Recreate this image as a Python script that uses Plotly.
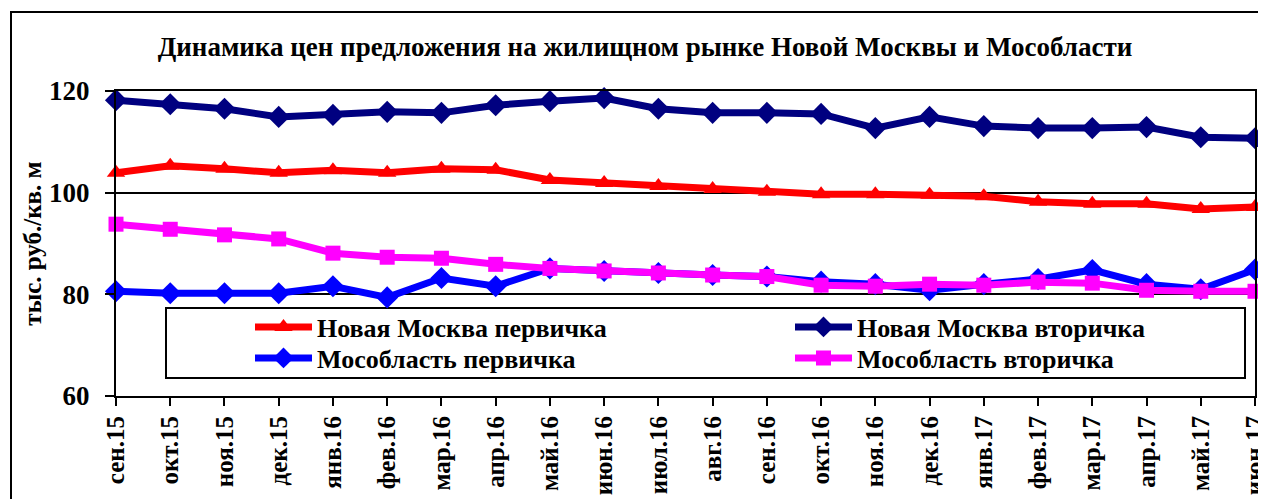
import plotly.graph_objects as go

months = ["сен.15", "окт.15", "ноя.15", "дек.15", "янв.16", "фев.16", "мар.16", "апр.16",
          "май.16", "июн.16", "июл.16", "авг.16", "сен.16", "окт.16", "ноя.16", "дек.16",
          "янв.17", "фев.17", "мар.17", "апр.17", "май.17", "июн.17"]

nm_primary = [103.9, 105.3, 104.7, 103.9, 104.4, 103.9, 104.7, 104.5, 102.5, 101.9, 101.3,
              100.7, 100.2, 99.7, 99.7, 99.6, 99.3, 98.2, 97.8, 97.8, 96.8, 97.2]
nm_secondary = [118.2, 117.4, 116.5, 114.9, 115.3, 115.9, 115.7, 117.2, 118.0, 118.6, 116.5,
                115.7, 115.7, 115.5, 112.7, 114.9, 113.1, 112.7, 112.7, 112.9, 110.9, 110.7]
mo_primary = [80.6, 80.2, 80.2, 80.2, 81.6, 79.4, 83.2, 81.6, 85.1, 84.6, 84.2,
              83.8, 83.5, 82.5, 82.0, 80.8, 82.0, 83.0, 84.8, 82.0, 81.0, 84.9]
mo_secondary = [93.8, 92.8, 91.7, 90.9, 88.1, 87.3, 87.1, 85.9, 85.1, 84.6, 84.2,
                83.8, 83.5, 81.8, 81.6, 82.0, 81.8, 82.4, 82.2, 80.8, 80.6, 80.6]

series = [
    ("Новая Москва первичка", nm_primary, "#FF0000", "triangle-up", 16, "legend"),
    ("Новая Москва вторичка", nm_secondary, "#000080", "diamond", 17, "legend2"),
    ("Мособласть первичка", mo_primary, "#0000FF", "diamond", 17, "legend3"),
    ("Мособласть вторичка", mo_secondary, "#FF00FF", "square", 15, "legend4"),
]

FONT = "Liberation Serif, Times New Roman, serif"

fig = go.Figure()
for name, vals, color, sym, ms, lg in series:
    fig.add_trace(go.Scatter(
        x=list(range(len(months))), y=vals, name=name, mode="lines+markers",
        line=dict(color=color, width=7),
        marker=dict(symbol=sym, size=ms, color=color),
        cliponaxis=False, legend=lg,
    ))

# the page body has an 8px margin, so figure coordinates = screen coordinates - 8
OFF = 8
W, H = 1266, 499
L = 116 - OFF
T = 91 - OFF
R = W - (1255 - OFF)
B = H - (396 - OFF)
pw = W - L - R
ph = H - T - B

def px_x(p):
    return (p - OFF - L) / pw

def px_y(p):
    return (H - B - (p - OFF)) / ph

shapes = [
    dict(type="rect", xref="paper", yref="paper",
         x0=px_x(11), x1=px_x(1280), y0=px_y(12), y1=px_y(520),
         line=dict(color="black", width=2), fillcolor="rgba(0,0,0,0)", layer="below"),
    dict(type="rect", xref="paper", yref="paper",
         x0=px_x(166), x1=px_x(1245), y0=px_y(308), y1=px_y(378),
         line=dict(color="black", width=2), fillcolor="white", layer="below"),
]

LEG_FONT = dict(family=FONT, size=26, weight="bold", color="black")

def legend_at(px, py):
    return dict(x=px_x(px), xanchor="left", y=px_y(py), yanchor="middle",
                bgcolor="rgba(0,0,0,0)", borderwidth=0, font=LEG_FONT,
                itemwidth=57, orientation="v")

fig.update_layout(
    width=W, height=H,
    margin=dict(l=L, r=R, t=T, b=B, autoexpand=False),
    paper_bgcolor="white", plot_bgcolor="white",
    font=dict(family=FONT, color="black", size=24, weight="bold"),
    title=dict(text="Динамика цен предложения на жилищном рынке Новой Москвы и Мособласти",
               x=(645 - OFF) / W, xanchor="center", y=1 - (47 - OFF) / H, yanchor="middle",
               font=dict(family=FONT, size=27, weight="bold", color="black")),
    xaxis=dict(
        tickmode="array", tickvals=list(range(len(months))), ticktext=months,
        range=[0, len(months) - 1], tickangle=-90, automargin=False,
        showgrid=False, showline=True, linecolor="black", linewidth=2, mirror=True,
        ticks="outside", ticklen=8, tickwidth=2, tickcolor="black",
        tickfont=dict(family=FONT, size=25, weight="bold"), zeroline=False,
    ),
    yaxis=dict(
        range=[60, 120], tickvals=[60, 80, 100, 120], automargin=False,
        showgrid=True, gridcolor="black", gridwidth=2,
        showline=True, linecolor="black", linewidth=2, mirror=True,
        ticks="outside", ticklen=9, tickwidth=2, tickcolor="black",
        ticklabelstandoff=10,
        tickfont=dict(family=FONT, size=27, weight="bold"), zeroline=False,
        title=dict(text="тыс. руб./кв. м", standoff=0,
                   font=dict(family=FONT, size=25, weight="bold")),
    ),
    legend=legend_at(250, 327),
    legend2=legend_at(790, 327),
    legend3=legend_at(250, 358),
    legend4=legend_at(790, 358),
    shapes=shapes,
    showlegend=True,
)

fig.write_html("out.html")
